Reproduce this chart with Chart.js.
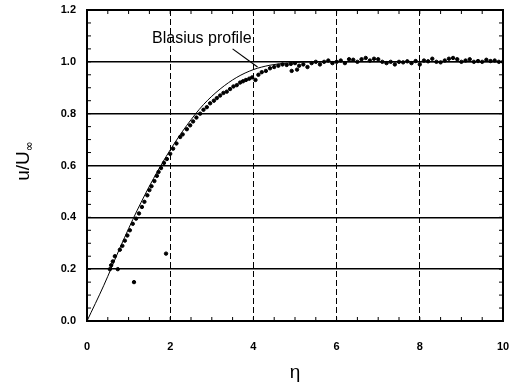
<!DOCTYPE html>
<html>
<head>
<meta charset="utf-8">
<script src="https://cdn.jsdelivr.net/npm/chart.js@4.4.1/dist/chart.umd.min.js"></script>
<style>
  body { margin: 0; background: #fff; }
  #wrap { width: 511px; height: 386px; }
</style>
</head>
<body>
<div id="wrap"><canvas id="profileChart"></canvas></div>
<script>
// Blasius curve
const blasiusEta = [0, 0.4, 0.8, 1.2, 1.6, 2.0, 2.4, 2.8, 3.2, 3.6, 4.0, 4.4, 4.8, 5.2, 5.6, 6, 7, 8, 9, 10];
const blasiusU = [0, 0.136, 0.285, 0.425, 0.55, 0.66, 0.755, 0.835, 0.895, 0.94, 0.97, 0.987, 0.995, 0.999, 1.0, 1.0, 1.0, 1.0, 1.0, 1.0];

// measured points
const measEta = [0.55, 0.58, 0.62, 0.67, 0.74, 0.79, 0.85, 0.91, 0.97, 1.03, 1.1, 1.13, 1.18, 1.25, 1.32, 1.38, 1.45, 1.5,
  1.55, 1.62, 1.68, 1.72, 1.78, 1.85, 1.9, 1.92, 2.0, 2.07, 2.15, 2.24, 2.3, 2.4, 2.48, 2.55, 2.63, 2.72, 2.8, 2.88,
  2.96, 3.05, 3.12, 3.2, 3.28, 3.36, 3.44, 3.52, 3.6, 3.68, 3.75, 3.82, 3.9, 3.97, 4.05, 4.12, 4.2, 4.3, 4.4, 4.5,
  4.6, 4.7, 4.8, 4.9, 4.92, 5.0, 5.05, 5.1, 5.2, 5.3, 5.4, 5.5, 5.6, 5.7, 5.8, 5.9, 6.0, 6.1, 6.2, 6.3, 6.4, 6.5,
  6.6, 6.7, 6.8, 6.9, 7.0, 7.1, 7.2, 7.3, 7.4, 7.5, 7.6, 7.7, 7.8, 7.9, 8.0, 8.1, 8.2, 8.3, 8.4, 8.5, 8.6, 8.7,
  8.8, 8.9, 9.0, 9.1, 9.2, 9.3, 9.4, 9.5, 9.6, 9.7, 9.8, 9.9, 10.0];
const measU = [0.2, 0.215, 0.23, 0.25, 0.20, 0.275, 0.29, 0.31, 0.33, 0.35, 0.375, 0.15, 0.395, 0.415, 0.44, 0.46, 0.485, 0.505,
  0.52, 0.54, 0.56, 0.575, 0.59, 0.61, 0.26, 0.625, 0.645, 0.665, 0.685, 0.71, 0.72, 0.74, 0.755, 0.77, 0.785, 0.80, 0.815, 0.825,
  0.84, 0.85, 0.86, 0.87, 0.88, 0.885, 0.895, 0.905, 0.91, 0.92, 0.925, 0.93, 0.935, 0.94, 0.93, 0.95, 0.96, 0.965, 0.975, 0.98,
  0.985, 0.99, 0.988, 0.992, 0.965, 0.995, 0.97, 0.985, 0.99, 0.98, 0.995, 1.0, 0.99, 1.0, 1.005, 0.995, 1.0, 1.005, 0.995, 1.01, 1.008, 1.0,
  1.01, 1.015, 1.005, 1.012, 1.01, 1.0, 0.995, 1.0, 0.99, 1.0, 0.998, 1.002, 0.995, 1.003, 0.99, 1.005, 1.002, 1.012, 1.0, 0.998, 1.005, 1.012,
  1.015, 1.01, 1.0, 1.005, 1.01, 1.0, 1.003, 1.0, 1.008, 1.003, 1.005, 1.0, 1.0];

const xTicks = [0, 2, 4, 6, 8, 10];
const yTicks = [0.0, 0.2, 0.4, 0.6, 0.8, 1.0, 1.2];

const blasiusPts = blasiusEta.map((e, i) => ({ x: e, y: blasiusU[i] }));
const measPts = measEta.map((e, i) => ({ x: e, y: measU[i] }));

// frame, inward minor ticks, y title and the "Blasius profile" note
const decorPlugin = {
    id: 'decor',
    afterDraw(chart) {
        const { ctx, chartArea: a, scales: { x, y } } = chart;
        ctx.save();
        ctx.strokeStyle = '#000';
        ctx.lineWidth = 2;
        ctx.strokeRect(a.left, a.top, a.right - a.left, a.bottom - a.top);

        ctx.lineWidth = 1;
        ctx.beginPath();
        for (let v = 0.5; v < 10; v += 0.5) {
            const px = x.getPixelForValue(v);
            ctx.moveTo(px, a.bottom); ctx.lineTo(px, a.bottom - 4);
            ctx.moveTo(px, a.top); ctx.lineTo(px, a.top + 4);
        }
        for (let v = 0.05; v < 1.2; v += 0.05) {
            const py = y.getPixelForValue(v);
            ctx.moveTo(a.left, py); ctx.lineTo(a.left + 4, py);
            ctx.moveTo(a.right, py); ctx.lineTo(a.right - 4, py);
        }
        ctx.stroke();

        // leader line of the note
        ctx.lineWidth = 1.2;
        ctx.beginPath();
        ctx.moveTo(x.getPixelForValue(3.5), y.getPixelForValue(1.05));
        ctx.lineTo(x.getPixelForValue(4.1), y.getPixelForValue(0.98));
        ctx.stroke();

        ctx.fillStyle = '#000';
        ctx.font = '16px "Liberation Sans", Arial, sans-serif';
        ctx.textAlign = 'center';
        ctx.textBaseline = 'middle';
        ctx.fillText('Blasius profile', x.getPixelForValue(2.76), y.getPixelForValue(1.088));

        // y axis title u/U∞
        ctx.translate(24, 160);
        ctx.rotate(-Math.PI / 2);
        ctx.font = '19px "Liberation Sans", Arial, sans-serif';
        ctx.textAlign = 'left';
        const w1 = ctx.measureText('u/U').width;
        const w2 = 12;
        ctx.fillText('u/U', -(w1 + w2) / 2, 0);
        ctx.font = '12px "DejaVu Sans", sans-serif';
        ctx.fillText('\u221E', -(w1 + w2) / 2 + w1, 6);
        ctx.restore();
    }
};

const ctx = document.getElementById('profileChart').getContext('2d');
new Chart(ctx, {
    type: 'scatter',
    data: {
        datasets: [{
            label: 'measured',
            data: measPts,
            backgroundColor: '#000',
            borderColor: '#000',
            pointRadius: 1.7,
            borderWidth: 1
        }, {
            label: 'Blasius',
            data: blasiusPts,
            showLine: true,
            cubicInterpolationMode: 'monotone',
            borderColor: '#000',
            borderWidth: 1,
            pointRadius: 0
        }]
    },
    plugins: [decorPlugin],
    options: {
        responsive: true,
        maintainAspectRatio: false,
        animation: false,
        layout: { padding: { left: 0, right: 8, top: 10, bottom: 0 } },
        plugins: {
            legend: { display: false },
            tooltip: { enabled: false }
        },
        scales: {
            x: {
                type: 'linear',
                min: 0,
                max: 10,
                afterFit: (s) => { s.height = 65; s.paddingLeft = 0; s.paddingRight = 0; },
                afterBuildTicks: (s) => { s.ticks = xTicks.map(v => ({ value: v })); },
                grid: { color: '#000', lineWidth: 1, drawTicks: false },
                border: { display: false, dash: [6, 3] },
                ticks: {
                    color: '#000',
                    padding: 19,
                    font: { family: '"Liberation Sans", Arial, sans-serif', size: 11, weight: 'bold' },
                    callback: (v) => String(v)
                },
                title: {
                    display: true,
                    text: 'η',
                    color: '#000',
                    font: { family: '"Liberation Sans", Arial, sans-serif', size: 19 },
                    padding: { top: 0, bottom: 2 }
                }
            },
            y: {
                type: 'linear',
                min: 0,
                max: 1.2,
                afterFit: (s) => { s.width = 87; s.paddingTop = 0; s.paddingBottom = 0; },
                afterBuildTicks: (s) => { s.ticks = yTicks.map(v => ({ value: v })); },
                grid: { color: '#000', lineWidth: 1.6, drawTicks: false },
                border: { display: false },
                ticks: {
                    color: '#000',
                    padding: 11,
                    font: { family: '"Liberation Sans", Arial, sans-serif', size: 11, weight: 'bold' },
                    callback: (v) => Number(v).toFixed(1)
                }
            }
        }
    }
});
</script>
</body>
</html>
